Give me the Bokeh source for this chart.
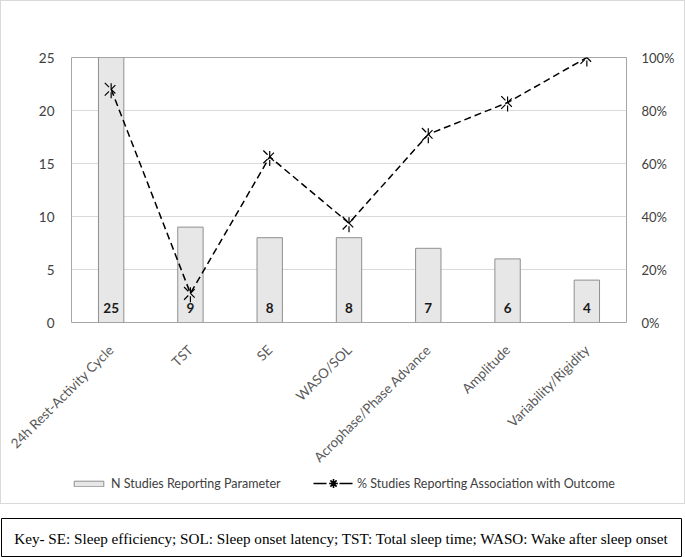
import math
from bokeh.plotting import figure
from bokeh.layouts import column
from bokeh.models import (FactorRange, Range1d, LinearAxis, FixedTicker, NumeralTickFormatter,
                          Legend, LegendItem, Label, ColumnDataSource)
from bokeh.core.properties import value
from bokeh.embed import file_html
from bokeh.resources import INLINE

# ---- data ----
categories = ["24h Rest-Activity Cycle", "TST", "SE", "WASO/SOL",
              "Acrophase/Phase Advance", "Amplitude", "Variability/Rigidity"]
n_studies = [25, 9, 8, 8, 7, 6, 4]
pct_association = [0.88, 0.11, 0.625, 0.375, 0.71, 0.83, 1.0]
left_ticks = [0, 5, 10, 15, 20, 25]
right_ticks = [0, 0.2, 0.4, 0.6, 0.8, 1.0]
bar_series_name = "N Studies Reporting Parameter"
line_series_name = "% Studies Reporting Association with Outcome"
key_text = ("Key- SE: Sleep efficiency; SOL: Sleep onset latency; "
            "TST: Total sleep time; WASO: Wake after sleep onset")

src = ColumnDataSource(dict(cat=categories, n=n_studies, pct=pct_association,
                            lbl=[str(v) for v in n_studies]))

FONT = "Lato"
GRAY_TXT = "#595959"
BAR_FILL = "#e7e7e7"
BAR_LINE = "#8f8f8f"

# ================= chart =================
p = figure(width=683, height=472,
           x_range=FactorRange(*categories, range_padding=0),
           y_range=Range1d(0, 25),
           output_backend="svg", toolbar_location=None,
           min_border_left=70, min_border_right=58,
           min_border_top=56, min_border_bottom=151)
p.frame_align = False
p.extra_y_ranges = {"pct": Range1d(0, 1)}

p.outline_line_color = "#a6a6a6"
p.outline_line_width = 1
p.xgrid.grid_line_color = None
p.ygrid.grid_line_color = "#d9d9d9"
p.ygrid.ticker = FixedTicker(ticks=left_ticks)

p.yaxis.ticker = FixedTicker(ticks=left_ticks)
p.yaxis.axis_line_color = None
p.yaxis.major_tick_line_color = None
p.yaxis.minor_tick_line_color = None
p.yaxis.major_label_standoff = 11
p.yaxis.major_label_text_font = FONT
p.yaxis.major_label_text_font_size = "13.5px"
p.yaxis.major_label_text_color = "#404040"

ry = LinearAxis(y_range_name="pct", ticker=FixedTicker(ticks=right_ticks),
                formatter=NumeralTickFormatter(format="0%"))
ry.axis_line_color = None
ry.major_tick_line_color = None
ry.minor_tick_line_color = None
ry.major_label_standoff = 9
ry.major_label_text_font = FONT
ry.major_label_text_font_size = "13px"
ry.major_label_text_color = "#404040"
p.add_layout(ry, "right")

p.xaxis.axis_line_color = None
p.xaxis.major_tick_line_color = None
p.xaxis.minor_tick_line_color = None
p.xaxis.major_label_orientation = math.pi / 4
p.xaxis.major_label_standoff = 19
p.xaxis.major_label_text_font = FONT
p.xaxis.major_label_text_font_size = "13.5px"
p.xaxis.major_label_text_color = GRAY_TXT

bars = p.vbar(x="cat", top="n", width=0.32, source=src,
              fill_color=BAR_FILL, line_color=BAR_LINE, line_width=1)
p.text(x="cat", y=1.4, text="lbl", source=src,
       text_font=value(FONT), text_font_style="bold", text_font_size="13.5px",
       text_align="center", text_baseline="middle", text_color="#1a1a1a")

p.line(x="cat", y="pct", y_range_name="pct", source=src,
       line_color="black", line_width=1.5, line_dash="7 4")
p.scatter(x="cat", y="pct", y_range_name="pct", source=src, marker="x",
          size=18, line_color="black", line_width=1.2, line_dash="6 3")
p.scatter(x="cat", y="pct", y_range_name="pct", source=src, marker="dash",
          angle=math.pi / 2, size=18, line_color="black", line_width=1.2,
          line_dash="6 3")

# ================= legend strip =================
lg = figure(width=683, height=30, x_range=Range1d(0, 683), y_range=Range1d(0, 30),
            output_backend="svg", toolbar_location=None,
            x_axis_location=None, y_axis_location=None,
            min_border=0, outline_line_color=None)
lg.frame_align = False
lg.grid.visible = False
# legend swatches (their own points lie outside the strip's visible range)
leg_bar = lg.vbar(x=[-500], top=[-500], width=1, fill_color=BAR_FILL,
                  line_color=BAR_LINE, line_width=1)
leg_line = lg.line(x=[-500, -490], y=[-500, -500], line_color="black",
                   line_width=1.5, line_dash="13 13 13")
leg_star = lg.scatter(x=[-500], y=[-500], marker="asterisk", line_color="black",
                      line_width=1.6)

common = dict(orientation="horizontal", label_standoff=4, padding=0, margin=0, spacing=0,
              border_line_color=None, background_fill_alpha=0, label_text_font=FONT,
              label_text_font_size="12.5px", label_text_color="#404040")
leg1 = Legend(items=[LegendItem(label=bar_series_name, renderers=[leg_bar])],
              location=(69, 12), glyph_width=37, glyph_height=7, label_height=7, **common)
leg2 = Legend(items=[LegendItem(label=line_series_name, renderers=[leg_line, leg_star])],
              location=(312, 9), glyph_width=40, glyph_height=22, label_height=22, **common)
lg.add_layout(leg1)
lg.add_layout(leg2)

# ================= key box =================
kb = figure(width=683, height=40, x_range=Range1d(0, 1), y_range=Range1d(0, 1),
            output_backend="svg", toolbar_location=None,
            x_axis_location=None, y_axis_location=None,
            min_border_left=1, min_border_right=2, min_border_top=1, min_border_bottom=1,
            outline_line_color="black", outline_line_width=1)
kb.frame_align = False
kb.grid.visible = False
kb.add_layout(Label(x=340, y=18.5, x_units="screen", y_units="screen",
                    text=key_text, text_font="Liberation Serif",
                    text_font_size="15.2px", text_align="center",
                    text_baseline="middle", text_color="black"))

top = column(p, lg, spacing=0, styles={"border": "1px solid #d9d9d9"})
page = column(top, kb, spacing=13)

open("out.html", "w").write(file_html(page, INLINE))
